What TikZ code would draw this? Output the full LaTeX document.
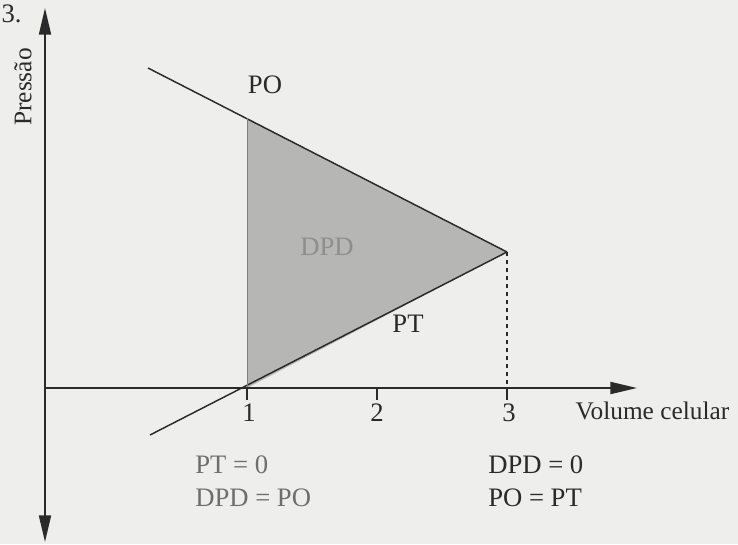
\documentclass[tikz,border=0pt]{standalone}
\usepackage{fontspec}
\setmainfont{Liberation Serif}
\usepackage{xcolor}
\usetikzlibrary{arrows.meta,positioning}
\definecolor{paper}{HTML}{EEEEEC}
\definecolor{ink}{HTML}{2A2A2A}
\definecolor{trifill}{HTML}{B6B6B4}
\definecolor{pale}{HTML}{6E6E6C}
\definecolor{dpdgray}{HTML}{8E8E8C}
\tikzset{
  axis/.style={ink, line width=1.4pt, -{Triangle[length=20pt,width=9pt]}},
  curve/.style={ink, line width=1.1pt},
  tick/.style={ink, line width=1.1pt},
  guide/.style={ink, line width=1pt, dashed},
  lbl/.style={font=\fontsize{20}{24}\selectfont, text=ink, inner sep=1pt},
  note/.style={font=\fontsize{20}{25}\selectfont, align=left, anchor=north west, inner sep=0pt}
}
\begin{document}
\begin{tikzpicture}[x=0.75pt,y=0.75pt]
  \fill[paper] (0,0) rectangle (738,544);
  \useasboundingbox (0,0) rectangle (738,544);

  % eixos
  \coordinate (orig) at (45,156);
  \coordinate (ytop) at (45,536);
  \coordinate (ybot) at (45,2);
  \coordinate (xend) at (637,156);
  \coordinate (v1) at (247,156);
  \coordinate (v2) at (377,156);
  \coordinate (v3) at (507,156);
  \coordinate (potop) at (247,426);
  \coordinate (tip) at (507,292);
  \coordinate (postart) at (148,476);
  \coordinate (ptstart) at (150,109);

  \fill[trifill] (potop) -- (tip) -- (v1) -- cycle;
  \draw[curve] (postart) -- (tip);
  \draw[curve] (ptstart) -- (tip);
  \draw[curve, line width=0.6pt, ink!60] (v1) -- (potop);
  \draw[guide] (tip) -- (v3);

  \draw[axis] (orig) -- (ytop);
  \draw[axis] (orig) -- (ybot);
  \draw[axis] (orig) -- (xend);
  \foreach \t in {v1,v2,v3}{\draw[tick] (\t) -- ++(0,-12);}

  \node[lbl] (n1) at (249,131) {1};
  \node[lbl] (n2) at (377,131) {2};
  \node[lbl] (n3) at (509,131) {3};
  \node[lbl, font=\fontsize{19}{22}\selectfont, anchor=west] (vol) at (574,133) {Volume celular};
  \node[lbl, rotate=90, font=\fontsize{19}{22}\selectfont] (pres) at (23,457) {Pressão};
  \node[lbl, anchor=west] (num) at (0,530) {3.};

  \node[lbl] (po) at (265,459) {PO};
  \node[lbl, text=dpdgray] (dpd) at (327,297) {DPD};
  \node[lbl] (pt) at (408,220) {PT};

  \node[note, text=pale] (left) at (195,89) {PT = 0\\DPD = PO};
  \node[note, text=ink] (right) at (488,89) {DPD = 0\\PO = PT};
\end{tikzpicture}
\end{document}
